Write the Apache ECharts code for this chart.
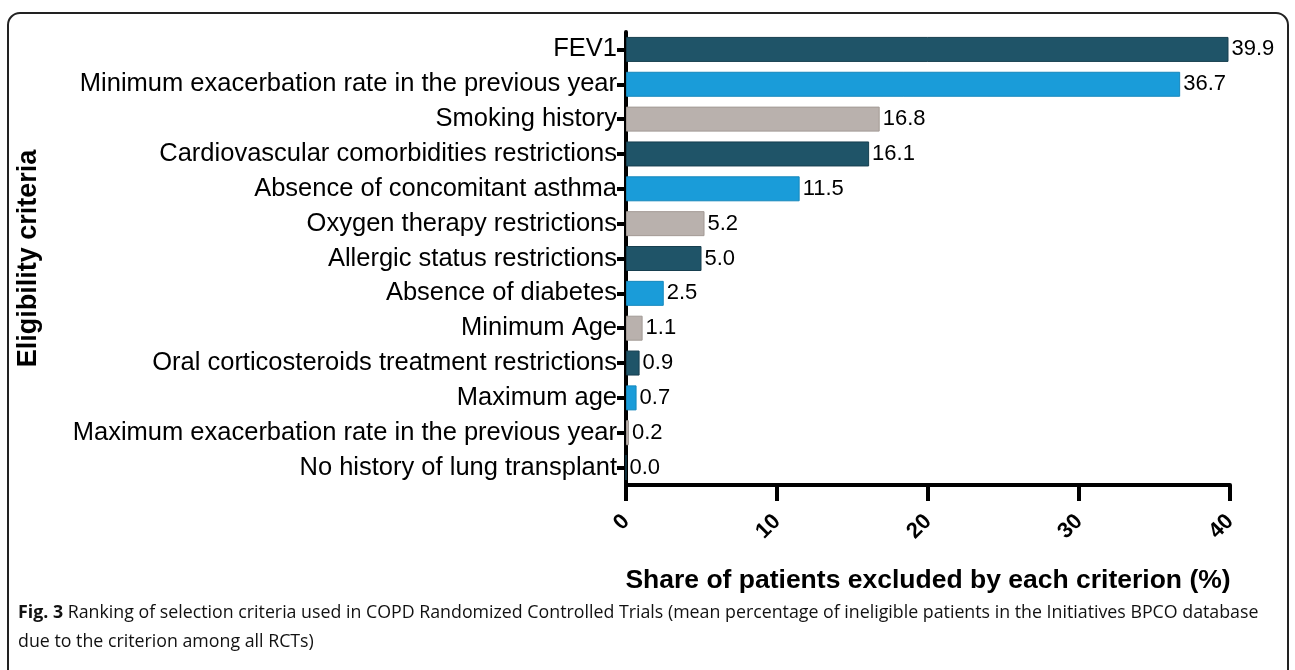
<!DOCTYPE html>
<html><head><meta charset="utf-8">
<script src="https://cdn.jsdelivr.net/npm/echarts@6/dist/echarts.min.js"></script>
<style>html,body{margin:0;padding:0;background:#fff}#c{width:1295px;height:670px}</style>
</head><body><div id="c"></div>
<script>
const categories = [
  "FEV1",
  "Minimum exacerbation rate in the previous year",
  "Smoking history",
  "Cardiovascular comorbidities restrictions",
  "Absence of concomitant asthma",
  "Oxygen therapy restrictions",
  "Allergic status restrictions",
  "Absence of diabetes",
  "Minimum Age",
  "Oral corticosteroids treatment restrictions",
  "Maximum age",
  "Maximum exacerbation rate in the previous year",
  "No history of lung transplant"
];
const values = [39.9, 36.7, 16.8, 16.1, 11.5, 5.2, 5.0, 2.5, 1.1, 0.9, 0.7, 0.2, 0.0];
const xTicks = [0, 10, 20, 30, 40];
const palette = ["#1f5468", "#1a9cd9", "#b9b1ad"];
const borders = ["#173f4f", "#1688bd", "#a39a95"];

const barData = values.map((v, i) => ({
  value: v,
  itemStyle: {color: palette[i % 3], borderColor: borders[i % 3], borderWidth: 1}
}));

const chart = echarts.init(document.getElementById('c'), null, {renderer: 'canvas'});
chart.setOption({
  animation: false,
  backgroundColor: '#fff',
  textStyle: {fontFamily: 'Liberation Sans, Arial, sans-serif'},
  grid: {left: 626, right: 65, top: 32, bottom: 185, containLabel: false},
  xAxis: {
    type: 'value', min: xTicks[0], max: xTicks[xTicks.length - 1], interval: 10,
    name: 'Share of patients excluded by each criterion (%)',
    nameLocation: 'middle', nameGap: 82,
    nameTextStyle: {fontSize: 26.5, fontWeight: 'bold', color: '#000'},
    axisLine: {show: true, lineStyle: {color: '#000', width: 4}},
    axisTick: {show: true, length: 16, lineStyle: {color: '#000', width: 4}},
    axisLabel: {rotate: 45, fontSize: 22, fontWeight: 'bold', color: '#000', margin: 33},
    splitLine: {show: false}
  },
  yAxis: {
    type: 'category', data: categories, inverse: true,
    name: 'Eligibility criteria', nameLocation: 'middle', nameGap: 584,
    nameTextStyle: {fontSize: 27, fontWeight: 'bold', color: '#000'},
    axisLine: {show: true, lineStyle: {color: '#000', width: 4}},
    axisTick: {show: true, alignWithLabel: true, length: 9, lineStyle: {color: '#000', width: 4}},
    axisLabel: {fontSize: 25.5, color: '#000', margin: 9}
  },
  series: [{
    type: 'bar', data: barData, barWidth: 25,
    label: {show: true, position: 'right', distance: 3, fontSize: 22, color: '#000',
      formatter: p => p.value.toFixed(1)}
  }],
  graphic: [
    {type: 'rect', shape: {x: 8, y: 13, width: 1280, height: 720, r: 12},
     style: {fill: 'none', stroke: '#222', lineWidth: 2}, silent: true},
    {type: 'text', left: 18, top: 598,
     style: {
       text: '{b|Fig. 3} Ranking of selection criteria used in COPD Randomized Controlled Trials (mean percentage of ineligible patients in the Initiatives BPCO database\ndue to the criterion among all RCTs)',
       font: '17.8px "Open Sans", sans-serif', fill: '#111', lineHeight: 29,
       rich: {b: {fontWeight: 'bold', fontSize: 17.8, fontFamily: 'Open Sans', fill: '#111'}}
     }}
  ]
});
</script></body></html>
